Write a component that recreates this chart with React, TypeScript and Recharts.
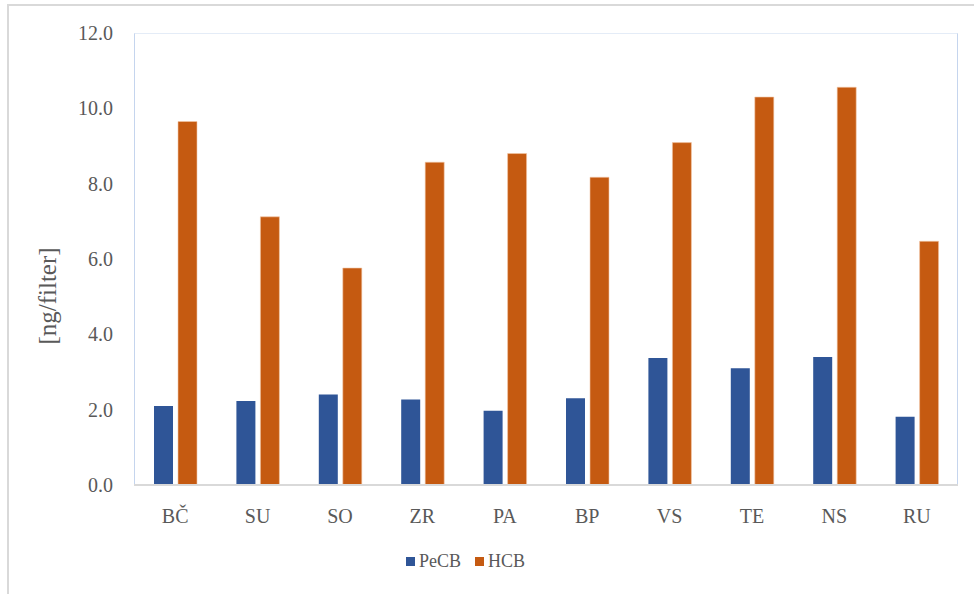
import React from 'react';
import { BarChart, Bar, XAxis, YAxis } from 'recharts';

const sites = ['BČ', 'SU', 'SO', 'ZR', 'PA', 'BP', 'VS', 'TE', 'NS', 'RU'];
const pecb = [2.1, 2.23, 2.4, 2.27, 1.97, 2.3, 3.37, 3.1, 3.4, 1.81];
const hcb = [9.65, 7.12, 5.76, 8.57, 8.8, 8.17, 9.09, 10.3, 10.56, 6.47];
const yTicks = [0, 2, 4, 6, 8, 10, 12];

const PECB_COLOR = '#2F5597';
const HCB_COLOR = '#C55A11';
const TEXT = '#595959';
const FONT = '"Liberation Serif", "Times New Roman", serif';

const data = sites.map((site, i) => ({ site, PeCB: pecb[i], HCB: hcb[i] }));

const legendItems = [
  { name: 'PeCB', color: PECB_COLOR },
  { name: 'HCB', color: HCB_COLOR },
];

const YLabel = () => (
  <text
    x={47}
    y={296}
    transform="rotate(-90 47 296)"
    textAnchor="middle"
    dominantBaseline="central"
    fill={TEXT}
    fontSize={25}
    fontFamily={FONT}
  >
    [ng/filter]
  </text>
);

export default function App() {
  return (
    <div style={{ position: 'absolute', left: 0, top: 0, width: 974, height: 594, background: '#fff', fontFamily: FONT }}>
      <div style={{ position: 'absolute', left: 7, top: 4, right: 0, bottom: 0, borderLeft: '2px solid #d9d9d9', borderTop: '2px solid #d9d9d9' }} />
      <div style={{ position: 'absolute', left: 134, top: 33, width: 824, height: 452, border: '1px solid #e4ecf7', borderLeft: '1px solid #c5d5ee', borderRight: '1px solid #c5d5ee', boxSizing: 'border-box' }} />
      <BarChart
        width={974}
        height={594}
        data={data}
        margin={{ top: 33, right: 16, left: 0, bottom: 69 }}
        barSize={19}
        barGap={5}
        style={{ position: 'absolute', left: 0, top: 0 }}
      >
        <XAxis
          dataKey="site"
          axisLine={{ stroke: '#d9d9d9', strokeWidth: 2 }}
          tickLine={false}
          tickMargin={18}
          tick={{ fill: TEXT, fontSize: 20, fontFamily: FONT }}
          height={40}
        />
        <YAxis
          domain={[0, 12]}
          ticks={yTicks}
          tickFormatter={(v: number) => v.toFixed(1)}
          axisLine={false}
          tickLine={false}
          tickMargin={15}
          width={134}
          tick={{ fill: TEXT, fontSize: 20, fontFamily: FONT }}
          label={{ content: <YLabel /> }}
        />
        <Bar dataKey="PeCB" fill={PECB_COLOR} isAnimationActive={false} />
        <Bar dataKey="HCB" fill={HCB_COLOR} stroke="#f4c7a8" strokeWidth={0.6} isAnimationActive={false} />
      </BarChart>
      <div style={{ position: 'absolute', left: 406, top: 551, display: 'flex', alignItems: 'center', fontSize: 18, color: TEXT }}>
        {legendItems.map((item) => (
          <span key={item.name} style={{ display: 'flex', alignItems: 'center', marginRight: 14 }}>
            <span style={{ width: 9, height: 9, background: item.color, display: 'inline-block', marginRight: 4 }} />
            {item.name}
          </span>
        ))}
      </div>
    </div>
  );
}
